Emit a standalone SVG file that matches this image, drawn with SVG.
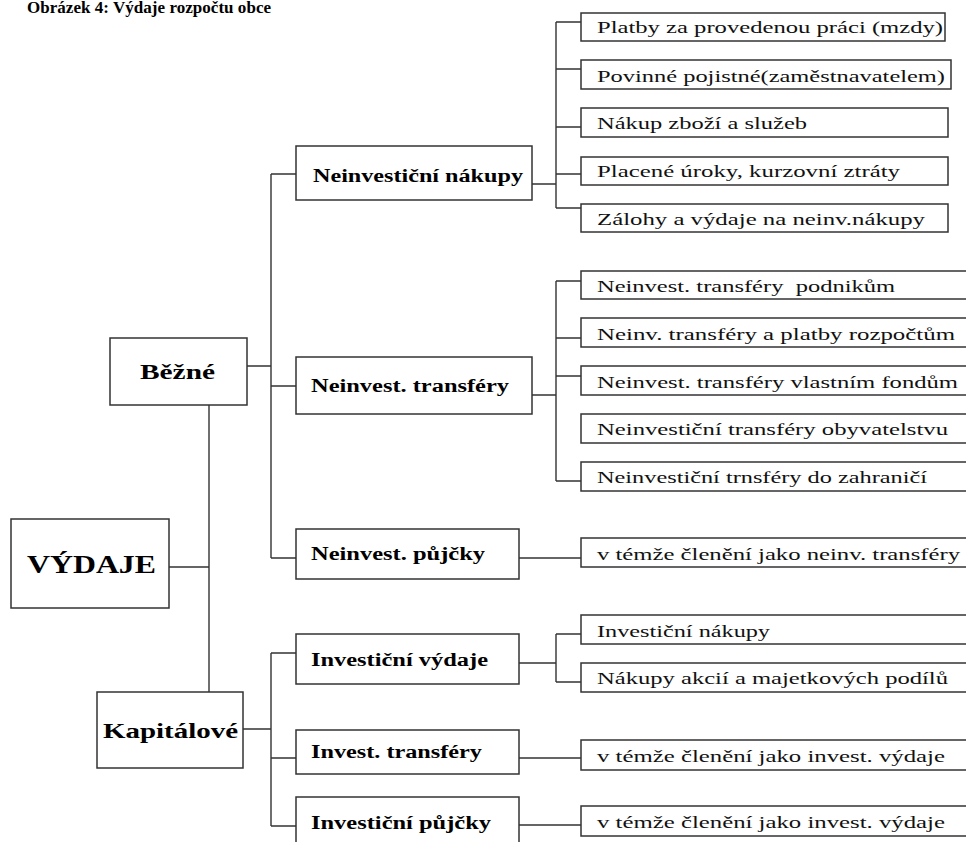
<svg xmlns="http://www.w3.org/2000/svg" width="966" height="842" viewBox="0 0 966 842">
<style>
.box{fill:#fff;stroke:#333;stroke-width:1.5}
.ln{fill:none;stroke:#333;stroke-width:1.4}
.t1{font-family:"Liberation Serif",serif;font-weight:bold;fill:#000}
.t2{font-family:"Liberation Serif",serif;font-weight:bold;font-size:18px;fill:#000}
.t3{font-family:"Liberation Serif",serif;font-size:16px;fill:#111}
</style>
<rect width="966" height="842" fill="#fff"/>
<text class="t1" x="27" y="13" font-size="17" textLength="244" lengthAdjust="spacing">Obrázek 4: Výdaje rozpočtu obce</text>

<g id="connectors">
<path class="ln" d="M169 567H209M209 405V692"/>
<path class="ln" d="M247 366H271M271 174V558M271 174H296M271 386H296M271 558H296"/>
<path class="ln" d="M243 729H271M271 653V826M271 653H296M271 758H296M271 826H296"/>
<path class="ln" d="M532 184H556M556 22V208M556 22H581M556 69H581M556 127H581M556 174H581M556 208H581"/>
<path class="ln" d="M532 395H556M556 281V481M556 281H581M556 338H581M556 376H581M556 481H581"/>
<path class="ln" d="M519 558H581"/>
<path class="ln" d="M519 663H556M556 634V682M556 634H581M556 682H581"/>
<path class="ln" d="M519 758H581M519 825H581"/>
</g>

<g id="vydaje"><rect class="box" x="11" y="519" width="158" height="89"/><text class="t1" x="27" y="573" font-size="25" textLength="129" lengthAdjust="spacingAndGlyphs">VÝDAJE</text></g>
<g id="bezne"><rect class="box" x="110" y="338" width="137" height="67"/><text class="t1" x="140" y="379" font-size="21" textLength="75" lengthAdjust="spacingAndGlyphs">Běžné</text></g>
<g id="kapitalove"><rect class="box" x="97" y="692" width="146" height="76"/><text class="t1" x="103" y="738" font-size="21" textLength="135" lengthAdjust="spacingAndGlyphs">Kapitálové</text></g>

<g id="neinv-nakupy"><rect class="box" x="296" y="146" width="236" height="54"/><text class="t2" x="313" y="182" textLength="210" lengthAdjust="spacingAndGlyphs">Neinvestiční nákupy</text></g>
<g id="neinv-transfery"><rect class="box" x="296" y="357" width="236" height="57"/><text class="t2" x="311" y="392" textLength="198" lengthAdjust="spacingAndGlyphs">Neinvest. transféry</text></g>
<g id="neinv-pujcky"><rect class="box" x="296" y="529" width="223" height="50"/><text class="t2" x="311" y="560" textLength="174" lengthAdjust="spacingAndGlyphs">Neinvest. půjčky</text></g>
<g id="inv-vydaje"><rect class="box" x="296" y="634" width="223" height="50"/><text class="t2" x="311" y="666" textLength="177" lengthAdjust="spacingAndGlyphs">Investiční výdaje</text></g>
<g id="inv-transfery"><rect class="box" x="296" y="730" width="223" height="44"/><text class="t2" x="311" y="758" textLength="171" lengthAdjust="spacingAndGlyphs">Invest. transféry</text></g>
<g id="inv-pujcky"><rect class="box" x="296" y="797" width="223" height="52"/><text class="t2" x="311" y="829" textLength="180" lengthAdjust="spacingAndGlyphs">Investiční půjčky</text></g>

<g id="g1-1"><rect class="box" x="581" y="13" width="364" height="28"/><text class="t3" x="597" y="33" textLength="346" lengthAdjust="spacingAndGlyphs">Platby za provedenou práci (mzdy)</text></g>
<g id="g1-2"><rect class="box" x="581" y="60" width="370" height="29"/><text class="t3" x="597" y="82" textLength="348" lengthAdjust="spacingAndGlyphs">Povinné pojistné(zaměstnavatelem)</text></g>
<g id="g1-3"><rect class="box" x="581" y="108" width="367" height="29"/><text class="t3" x="597" y="129" textLength="210" lengthAdjust="spacingAndGlyphs">Nákup zboží a služeb</text></g>
<g id="g1-4"><rect class="box" x="581" y="157" width="367" height="28"/><text class="t3" x="597" y="177" textLength="303" lengthAdjust="spacingAndGlyphs">Placené úroky, kurzovní ztráty</text></g>
<g id="g1-5"><rect class="box" x="581" y="204" width="367" height="28"/><text class="t3" x="597" y="225" textLength="328" lengthAdjust="spacingAndGlyphs">Zálohy a výdaje na neinv.nákupy</text></g>

<g id="g2-1"><rect class="box" x="581" y="271" width="390" height="28"/><text class="t3" x="597" y="292" textLength="298" lengthAdjust="spacingAndGlyphs" xml:space="preserve">Neinvest. transféry  podnikům</text></g>
<g id="g2-2"><rect class="box" x="581" y="318" width="390" height="29"/><text class="t3" x="597" y="340" textLength="358" lengthAdjust="spacingAndGlyphs">Neinv. transféry a platby rozpočtům</text></g>
<g id="g2-3"><rect class="box" x="581" y="366" width="390" height="29"/><text class="t3" x="597" y="388" textLength="361" lengthAdjust="spacingAndGlyphs">Neinvest. transféry vlastním fondům</text></g>
<g id="g2-4"><rect class="box" x="581" y="414" width="390" height="29"/><text class="t3" x="597" y="435" textLength="351" lengthAdjust="spacingAndGlyphs">Neinvestiční transféry obyvatelstvu</text></g>
<g id="g2-5"><rect class="box" x="581" y="462" width="390" height="29"/><text class="t3" x="597" y="483" textLength="330" lengthAdjust="spacingAndGlyphs">Neinvestiční trnsféry do zahraničí</text></g>

<g id="g3-1"><rect class="box" x="581" y="538" width="390" height="29"/><text class="t3" x="597" y="560" textLength="363" lengthAdjust="spacingAndGlyphs">v témže členění jako neinv. transféry</text></g>
<g id="g3-2"><rect class="box" x="581" y="615" width="390" height="29"/><text class="t3" x="597" y="637" textLength="173" lengthAdjust="spacingAndGlyphs">Investiční nákupy</text></g>
<g id="g3-3"><rect class="box" x="581" y="663" width="390" height="29"/><text class="t3" x="597" y="684" textLength="351" lengthAdjust="spacingAndGlyphs">Nákupy akcií a majetkových podílů</text></g>
<g id="g3-4"><rect class="box" x="581" y="740" width="390" height="30"/><text class="t3" x="597" y="762" textLength="348" lengthAdjust="spacingAndGlyphs">v témže členění jako invest. výdaje</text></g>
<g id="g3-5"><rect class="box" x="581" y="806" width="390" height="30"/><text class="t3" x="597" y="828" textLength="348" lengthAdjust="spacingAndGlyphs">v témže členění jako invest. výdaje</text></g>
</svg>
